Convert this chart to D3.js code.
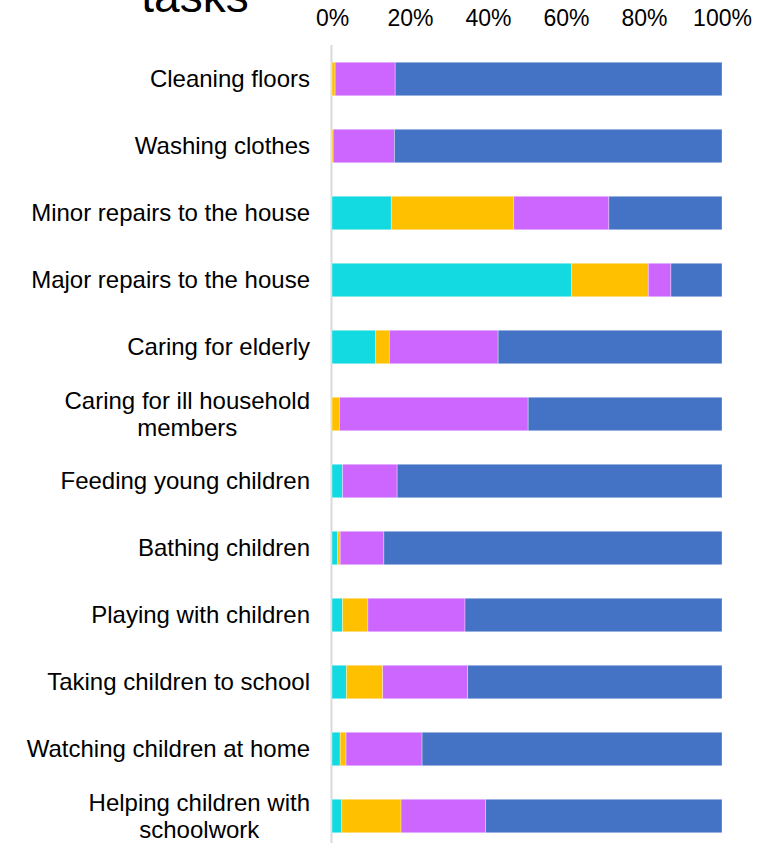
<!DOCTYPE html>
<html>
<head>
<meta charset="utf-8">
<script src="https://cdn.jsdelivr.net/npm/d3@7"></script>
<style>
  html, body { margin: 0; padding: 0; background: #fff; }
  svg { display: block; font-family: "Liberation Sans", Arial, sans-serif; }
</style>
</head>
<body>
<svg id="chart" width="776" height="843"></svg>
<script>
// Household tasks and who carries them out (share of responses, %)
const categories = [
  "Cleaning floors",
  "Washing clothes",
  "Minor repairs to the house",
  "Major repairs to the house",
  "Caring for elderly",
  "Caring for ill household members",
  "Feeding young children",
  "Bathing children",
  "Playing with children",
  "Taking children to school",
  "Watching children at home",
  "Helping children with schoolwork"
];

const seriesKeys = ["s1", "s2", "s3", "s4"];
const s1 = [0, 0, 15.2, 61.4, 11.2, 0, 2.7, 1.4, 2.7, 3.7, 2.1, 2.5];
const s2 = [0.8, 0.3, 31.4, 19.7, 3.5, 1.9, 0, 0.7, 6.5, 9.3, 1.5, 15.2];
const s3 = [15.4, 15.7, 24.4, 5.8, 27.9, 48.4, 14.0, 11.2, 24.9, 21.8, 19.5, 21.7];
const s4 = [83.8, 84.0, 29.0, 13.1, 57.4, 49.7, 83.3, 86.7, 65.9, 65.2, 76.9, 60.6];

const tickValues = [0, 20, 40, 60, 80, 100];
const titleText = "tasks";

const seriesColors = ["#13D9E0", "#FFC000", "#CC66FF", "#4472C4"];

// Rows for the stack layout
const rows = categories.map((c, i) => ({ task: c, s1: s1[i], s2: s2[i], s3: s3[i], s4: s4[i] }));

const svg = d3.select("#chart");

const x = d3.scaleLinear().domain([0, 100]).range([332, 722]);
const y = d3.scaleBand().domain(categories).range([45.5, 849.5])
  .paddingInner(0.5).paddingOuter(0.25);
const color = d3.scaleOrdinal().domain(seriesKeys).range(seriesColors);

// Title (last line of a larger heading)
svg.append("text")
  .attr("x", 195).attr("y", 12)
  .attr("text-anchor", "middle")
  .attr("font-size", 46)
  .attr("fill", "#000")
  .text(titleText);

// Top percentage axis
const xAxis = d3.axisTop(x).tickValues(tickValues).tickFormat(d => d + "%")
  .tickSize(0).tickPadding(0);
const gx = svg.append("g").attr("transform", "translate(0,26)").call(xAxis);
gx.select(".domain").remove();
gx.selectAll("text").attr("font-size", 23).attr("fill", "#000")
  .attr("font-family", "'Liberation Sans', Arial, sans-serif");

// Vertical category axis line
svg.append("line")
  .attr("x1", x(0) - 0.5).attr("x2", x(0) - 0.5)
  .attr("y1", 45).attr("y2", 843)
  .attr("stroke", "#d9d9d9").attr("stroke-width", 2);

// Stacked bars
const stacked = d3.stack().keys(seriesKeys)(rows);
svg.append("g").selectAll("g")
  .data(stacked)
  .join("g")
  .attr("fill", d => color(d.key))
  .selectAll("rect")
  .data(d => d)
  .join("rect")
  .attr("x", d => x(d[0]))
  .attr("y", d => y(d.data.task))
  .attr("width", d => x(d[1]) - x(d[0]))
  .attr("height", y.bandwidth())
  .attr("stroke", "rgba(255,255,255,0.45)")
  .attr("stroke-width", 0.75);

// Category labels, wrapped to a maximum width, right-aligned block
const labelRight = 310;
const maxLabelWidth = 295;
const lineHeight = 27;
const gy = svg.append("g");
categories.forEach(cat => {
  const cy = y(cat) + y.bandwidth() / 2;
  const t = gy.append("text")
    .attr("font-size", 24).attr("fill", "#000");
  // measure and wrap
  const words = cat.split(" ");
  const lines = [];
  let cur = [];
  const probe = t.append("tspan");
  words.forEach(w => {
    const test = cur.concat([w]).join(" ");
    probe.text(test);
    if (probe.node().getComputedTextLength() > maxLabelWidth && cur.length) {
      lines.push(cur.join(" "));
      cur = [w];
    } else {
      cur.push(w);
    }
  });
  lines.push(cur.join(" "));
  const widths = lines.map(l => { probe.text(l); return probe.node().getComputedTextLength(); });
  probe.remove();
  const blockW = d3.max(widths);
  const cx = lines.length > 1 ? labelRight - blockW / 2 : labelRight;
  t.attr("text-anchor", lines.length > 1 ? "middle" : "end");
  const y0 = cy - (lines.length - 1) * lineHeight / 2;
  lines.forEach((l, i) => {
    t.append("tspan")
      .attr("x", cx)
      .attr("y", y0 + i * lineHeight)
      .attr("dy", "0.35em")
      .text(l);
  });
});
</script>
</body>
</html>
